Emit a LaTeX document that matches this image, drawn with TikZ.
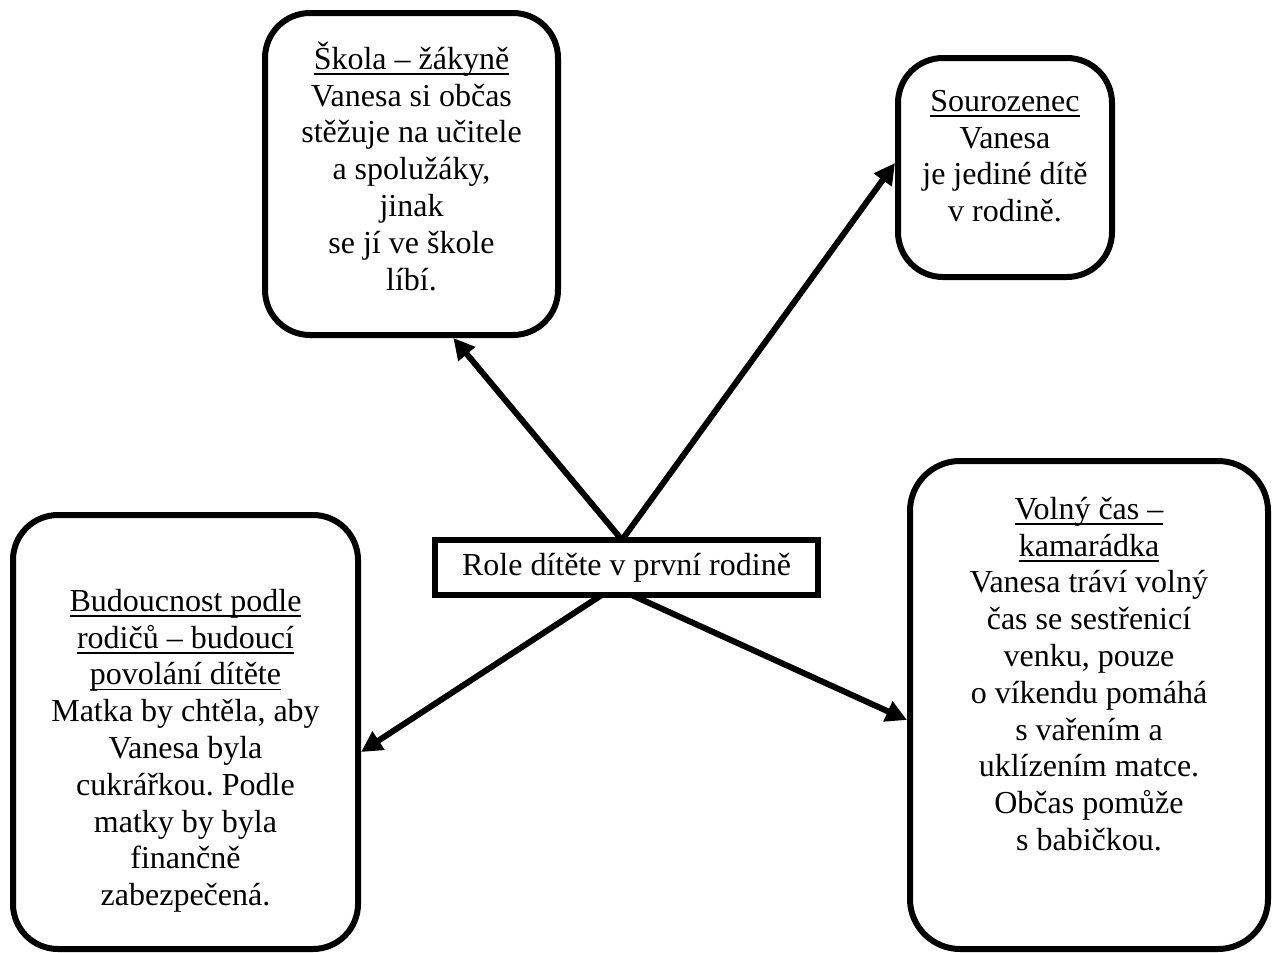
\documentclass[tikz,border=0pt]{standalone}
\usepackage{fontspec}
\setmainfont{Liberation Serif}
\usetikzlibrary{arrows.meta,calc,backgrounds}
\frenchspacing
\newcommand\bodyfont{\fontsize{32}{36.8}\selectfont\lineskiplimit=-100pt\relax}
\newcommand\uln[1]{\setbox0\hbox{#1}\rlap{\rule[-5.5pt]{\wd0}{1.8pt}}\box0}
\newcommand\fl{\rule{0pt}{30pt}}
\tikzset{
  box/.style={draw, line width=6pt, rounded corners=45pt, inner sep=0pt, outer sep=0pt},
  cbox/.style={draw, fill=white, line width=6pt, inner sep=0pt, outer sep=0pt, font=\bodyfont},
  txt/.style={anchor=north, inner sep=0pt, align=center, font=\bodyfont},
  arr/.style={line width=6pt, -{Triangle[length=21pt,width=21pt]}}
}
\begin{document}
\begin{tikzpicture}[x=1pt,y=-1pt]
\useasboundingbox (0,0) rectangle (1278,953);
% boxes
\node[box, minimum width=293pt, minimum height=322pt] (skola) at (411.5,174) {};
\node[box, minimum width=214pt, minimum height=219pt] (sour) at (1005,167.5) {};
\node[box, minimum width=345pt, minimum height=434pt] (bud) at (185.5,732) {};
\node[box, minimum width=358pt, minimum height=488pt, rounded corners=50pt] (vol) at (1089,705) {};
\node[cbox, minimum width=383pt, minimum height=55pt] (c) at (626.5,567.5) {Role dítěte v první rodině};
% texts
\node[txt] (tskola) at (411.5,39) {\fl\uln{Škola – žákyně}\\Vanesa si občas\\stěžuje na učitele\\a spolužáky,\\jinak\\se jí ve škole\\líbí.};
\node[txt] (tsour) at (1005,81) {\fl\uln{Sourozenec}\\Vanesa\\je jediné dítě\\v rodině.};
\node[txt] (tbud) at (185.5,581) {\fl\uln{Budoucnost podle}\\\uln{rodičů – budoucí}\\\uln{povolání dítěte}\\Matka by chtěla, aby\\Vanesa byla\\cukrářkou. Podle\\matky by byla\\finančně\\zabezpečená.};
\node[txt] (tvol) at (1089,489) {\fl\uln{Volný čas –}\\\uln{kamarádka}\\Vanesa tráví volný\\čas se sestřenicí\\venku, pouze\\o víkendu pomáhá\\s vařením a\\uklízením matce.\\Občas pomůže\\s babičkou.};
% connector end points
\coordinate (ctop) at ($(c.north)+(-4.5,0)$);
\coordinate (cbot) at ($(c.south)+(-12.5,-8)$);
\coordinate (eskola) at ($(skola.south west)!0.643!(skola.south east)+(0,3)$);
\coordinate (esour) at ($(sour.west)+(-3,-4.5)$);
\coordinate (ebud) at ($(bud.east)+(3,20)$);
\coordinate (evol) at ($(vol.west)+(-3,15)$);
\begin{pgfonlayer}{background}
\fill[white] (0,0) rectangle (1278,953);
\draw[arr] (ctop) -- (eskola);
\draw[arr] (ctop) -- (esour);
\draw[arr] (cbot) -- (ebud);
\draw[arr] (cbot) -- (evol);
\end{pgfonlayer}
\end{tikzpicture}
\end{document}
